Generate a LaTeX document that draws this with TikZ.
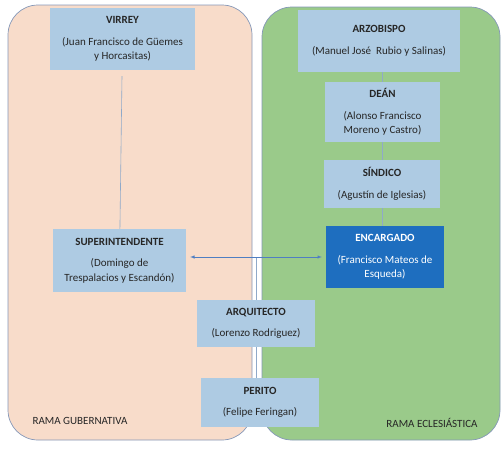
\documentclass[tikz,border=0pt]{standalone}
\usepackage{fontspec}
\setmainfont{Carlito}
\usepackage{tikz}
\usetikzlibrary{positioning}
\definecolor{salmon}{HTML}{F8DCCA}
\definecolor{verde}{HTML}{9ACA8A}
\definecolor{celeste}{HTML}{AECBE3}
\definecolor{azul}{HTML}{1E6EBF}
\definecolor{borde}{HTML}{8497B8}
\definecolor{linea}{HTML}{8FA9C9}
\definecolor{flecha}{HTML}{4F7EC2}
\definecolor{texto}{HTML}{262626}

\begin{document}
\begin{tikzpicture}[x=1pt,y=-1pt]
\tikzstyle{rama}=[draw=borde,line width=.7pt,rounded corners=30pt,inner sep=0pt]
\tikzstyle{cargo}=[fill=celeste,text=texto,align=center,inner sep=0pt,font=\fontsize{11}{14.5}\selectfont]
\tikzstyle{etiqueta}=[text=texto,font=\fontsize{11}{13}\selectfont]
    \useasboundingbox (0,0) rectangle (504,450);
    \node[rama,fill=salmon,minimum width=244pt,minimum height=435pt] (gub) at (130,222.5) {};
    \node[rama,fill=verde,minimum width=238pt,minimum height=433pt] (ecl) at (381,223.5) {};
    \node[cargo,minimum width=145pt,minimum height=62pt] (virrey) at (122.5,39) {\textbf{VIRREY}\\[7pt](Juan Francisco de Güemes\\y Horcasitas)};
    \node[cargo,minimum width=133pt,minimum height=63pt] (sup) at (119.5,260.5) {\textbf{SUPERINTENDENTE}\\[7pt](Domingo de\\Trespalacios y Escandón)};
    \node[cargo,minimum width=162pt,minimum height=62pt] (arz) at (379,41) {\textbf{ARZOBISPO}\\[7pt](Manuel José~ Rubio y Salinas)};
    \node[cargo,minimum width=115pt,minimum height=60pt] (dean) at (382.5,112) {\textbf{DEÁN}\\[7pt](Alonso Francisco\\Moreno y Castro)};
    \node[cargo,minimum width=116pt,minimum height=48pt] (sind) at (382,184) {\textbf{SÍNDICO}\\[7pt](Agustín de Iglesias)};
    \node[cargo,fill=azul,text=white,minimum width=118pt,minimum height=62pt] (enc) at (385,257) {\textbf{ENCARGADO}\\[7pt](Francisco Mateos de\\Esqueda)};
    \node[cargo,minimum width=118pt,minimum height=47pt] (arq) at (256,323.5) {\textbf{ARQUITECTO}\\[7pt](Lorenzo Rodriguez)};
    \node[cargo,minimum width=118pt,minimum height=49pt] (per) at (260,402.5) {\textbf{PERITO}\\[7pt](Felipe Feringan)};
    \node[etiqueta] (lgub) at (80,421) {RAMA GUBERNATIVA};
    \node[etiqueta] (lecl) at (432,423) {RAMA ECLESIÁSTICA};
    \coordinate (cruce) at (arq.north |- enc.west);
    \draw[linea,line width=.6pt,shorten <=6pt] (virrey) to (sup);
    \draw[linea,line width=.6pt] (dean.north) to (dean.north |- arz.south);
    \draw[linea,line width=.6pt] (dean.south) to (dean.south |- sind.north);
    \draw[linea,line width=.6pt] (enc.north -| dean.south) to (dean.south |- sind.south);
    \draw[linea,line width=.6pt] (cruce) to (arq.north);
    \draw[linea,line width=.6pt] (arq.south) to (arq.south |- per.north);
    \draw[latex-latex,flecha,line width=.5pt] ([xshift=4pt]sup.east |- enc.west) to ([xshift=-4pt]enc.west);
  \end{tikzpicture}
\end{document}
